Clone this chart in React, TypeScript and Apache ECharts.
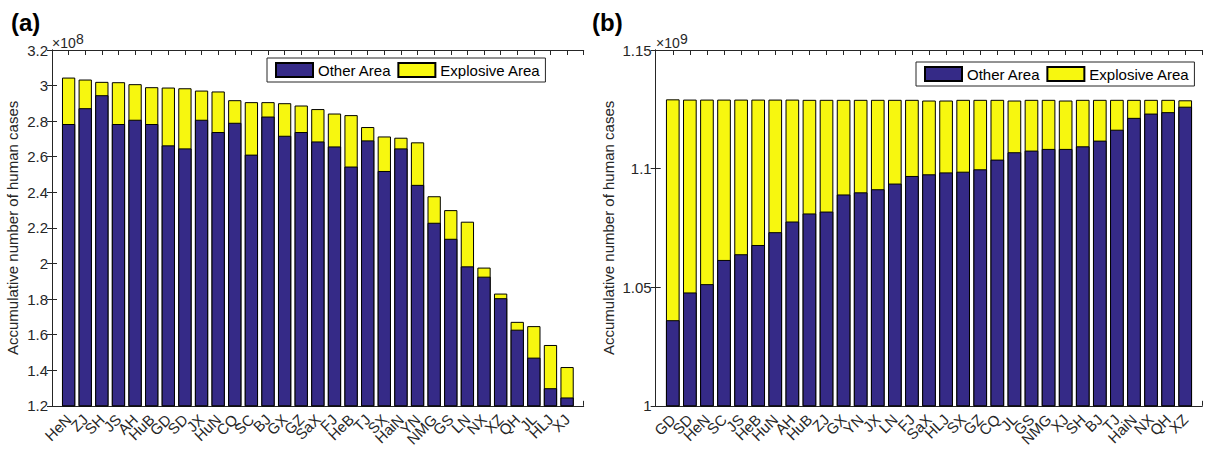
import React, { useEffect, useRef } from "react";
import * as echarts from "echarts";

// Panel (a): cumulative cases (x10^8), sorted by total
const provincesA = ["HeN","ZJ","SH","JS","AH","HuB","GD","SD","JX","HuN","CQ","SC","BJ","GX","GZ","SaX","FJ","HeB","TJ","SX","HaiN","YN","NMG","GS","LN","NX","XZ","QH","JL","HLJ","XJ"];
const otherA = [2.784,2.873,2.946,2.784,2.808,2.784,2.664,2.647,2.808,2.739,2.791,2.612,2.826,2.718,2.739,2.686,2.658,2.545,2.692,2.520,2.647,2.442,2.229,2.139,1.984,1.926,1.805,1.628,1.471,1.299,1.247];
const totalA = [3.045,3.034,3.021,3.019,3.008,2.991,2.989,2.985,2.972,2.967,2.918,2.907,2.907,2.901,2.888,2.868,2.843,2.834,2.767,2.714,2.707,2.681,2.378,2.300,2.235,1.977,1.831,1.672,1.648,1.542,1.418];

// Panel (b): cumulative cases (x10^9)
const provincesB = ["GD","SD","HeN","SC","JS","HeB","HuN","AH","HuB","ZJ","GX","YN","JX","LN","FJ","SaX","HLJ","SX","GZ","CQ","JL","GS","NMG","XJ","SH","BJ","TJ","HaiN","NX","QH","XZ"];
const otherB = [1.0361,1.0478,1.0513,1.0615,1.0639,1.0678,1.0732,1.0777,1.0811,1.0819,1.0891,1.0900,1.0913,1.0937,1.0969,1.0976,1.0984,1.0987,1.0997,1.1038,1.1069,1.1076,1.1083,1.1083,1.1094,1.1118,1.1164,1.1214,1.1232,1.1238,1.1261];
const totalB = [1.1292,1.1291,1.1291,1.1291,1.1291,1.1291,1.1291,1.1291,1.1290,1.1290,1.1290,1.1290,1.1290,1.1290,1.1290,1.1287,1.1287,1.1290,1.1290,1.1290,1.1287,1.1290,1.1290,1.1287,1.1290,1.1290,1.1290,1.1290,1.1290,1.1290,1.1288];

const yTicksA = { min: 1.2, max: 3.2, interval: 0.2 };
const yTicksB = { min: 1.0, max: 1.15, interval: 0.05 };

const seriesNames = ["Other Area", "Explosive Area"];
const NAVY = "#352A87";
const YELLOW = "#F7F70F";
const AX = "#262626";
const FONT = "'Liberation Sans', Arial, Helvetica, sans-serif";

export default function App() {
  const ref = useRef<HTMLDivElement>(null);
  useEffect(() => {
    document.body.style.margin = "0";
    if (!ref.current) return;
    const chart = echarts.init(ref.current, undefined, { renderer: "svg" });

    const grids = [
      { left: 52, top: 50, width: 531.7, height: 357 },
      { left: 655.7, top: 50, width: 546.6, height: 357 },
    ];

    const xAxes: any[] = [];
    const yAxes: any[] = [];
    const series: any[] = [];
    const panels = [
      { cats: provincesA, other: otherA, total: totalA, y: yTicksA, nameGap: 32 },
      { cats: provincesB, other: otherB, total: totalB, y: yTicksB, nameGap: 40 },
    ];

    panels.forEach((p, gi) => {
      const n = p.cats.length;
      const baseX = {
        type: "value",
        gridIndex: gi,
        min: 0,
        max: n + 1,
        interval: 1,
        splitLine: { show: false },
        axisLine: { show: true, lineStyle: { color: AX, width: 1 } },
        axisTick: { show: true, inside: true, length: 5, lineStyle: { color: AX } },
      };
      xAxes.push({
        ...baseX,
        position: "bottom",
        axisLabel: {
          show: true,
          rotate: 45,
          margin: 11,
          fontSize: 15,
          color: AX,
          fontFamily: FONT,
          formatter: (v: number) => p.cats[Math.round(v) - 1] ?? "",
        },
      });
      xAxes.push({ ...baseX, position: "top", axisLabel: { show: false } });

      const baseY = {
        type: "value",
        gridIndex: gi,
        min: p.y.min,
        max: p.y.max,
        interval: p.y.interval,
        splitLine: { show: false },
        axisLine: { show: true, lineStyle: { color: AX, width: 1 } },
        axisTick: { show: true, inside: true, length: 5, lineStyle: { color: AX } },
      };
      yAxes.push({
        ...baseY,
        position: "left",
        name: "Accumulative number of human cases",
        nameLocation: "middle",
        nameRotate: 90,
        nameGap: p.nameGap,
        nameTextStyle: { fontSize: 15, color: AX, fontFamily: FONT },
        axisLabel: { show: true, margin: 4, fontSize: 15, color: AX, fontFamily: FONT },
      });
      yAxes.push({ ...baseY, position: "right", axisLabel: { show: false } });

      const xi = gi * 2;
      const yi = gi * 2;
      // Explosive Area drawn as full-height (total) bar, Other Area overlaid on top of it
      series.push({
        name: seriesNames[1],
        type: "bar",
        xAxisIndex: xi,
        yAxisIndex: yi,
        barWidth: "80%",
        barGap: "-100%",
        z: 2,
        itemStyle: { color: YELLOW, borderColor: "#000", borderWidth: 1 },
        data: p.total.map((v, i) => [i + 1, v]),
      });
      series.push({
        name: seriesNames[0],
        type: "bar",
        xAxisIndex: xi,
        yAxisIndex: yi,
        barWidth: "80%",
        barGap: "-100%",
        z: 3,
        itemStyle: { color: NAVY, borderColor: "#000", borderWidth: 1 },
        data: p.other.map((v, i) => [i + 1, v]),
      });
    });

    const legendBase = {
      orient: "horizontal",
      itemWidth: 37,
      itemHeight: 14,
      itemGap: 6,
      padding: [4, 5, 4, 8],
      borderColor: AX,
      borderWidth: 1,
      backgroundColor: "#fff",
      icon: "rect",
      data: seriesNames,
      textStyle: { fontSize: 15, color: "#000", fontFamily: FONT },
    };

    const expText = (x: number, exp: string) => [
      {
        type: "text",
        left: x,
        top: 36,
        style: { text: "×10", font: `14px ${FONT}`, fill: AX },
      },
      {
        type: "text",
        left: x + 24,
        top: 32,
        style: { text: exp, font: `14px ${FONT}`, fill: AX },
      },
    ];

    chart.setOption({
      animation: false,
      textStyle: { fontFamily: FONT },
      grid: grids,
      xAxis: xAxes,
      yAxis: yAxes,
      series,
      legend: [
        { ...legendBase, left: 267, top: 58 },
        { ...legendBase, left: 916, top: 62 },
      ],
      graphic: [
        { type: "text", left: 11, top: 10, style: { text: "(a)", font: `bold 24px ${FONT}`, fill: "#000" } },
        { type: "text", left: 592, top: 10, style: { text: "(b)", font: `bold 24px ${FONT}`, fill: "#000" } },
        ...expText(52, "8"),
        ...expText(656, "9"),
      ],
    });

    return () => chart.dispose();
  }, []);

  return <div ref={ref} style={{ width: 1207, height: 449 }} />;
}
